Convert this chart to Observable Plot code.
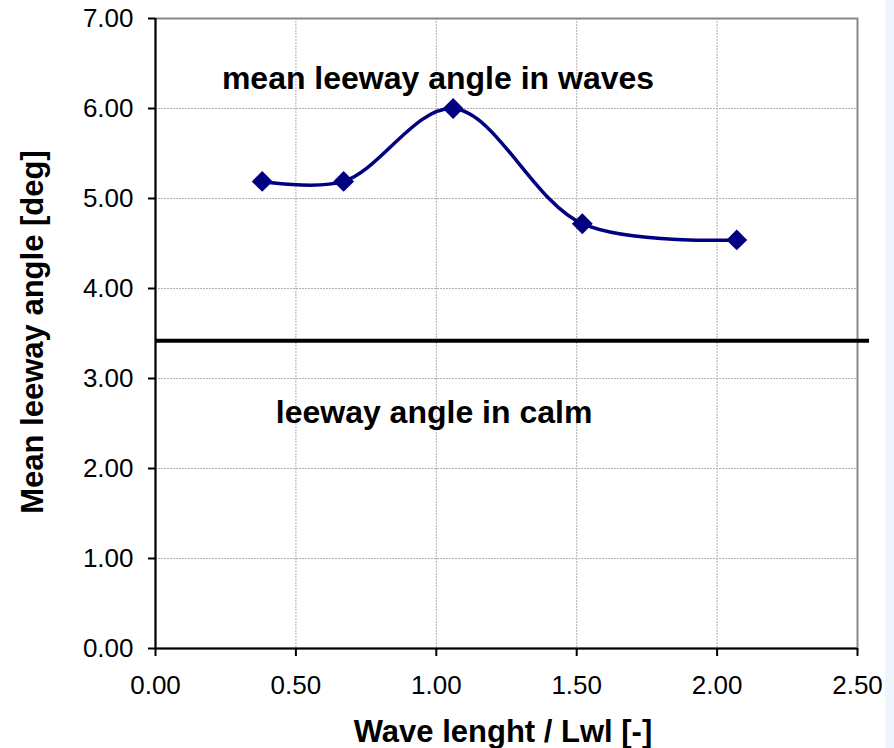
<!DOCTYPE html>
<html>
<head>
<meta charset="utf-8">
<script src="https://cdn.jsdelivr.net/npm/d3@7"></script>
<script src="https://cdn.jsdelivr.net/npm/@observablehq/plot@0.6"></script>
<style>
  html, body { margin: 0; padding: 0; background: #ffffff; }
  #wrap { position: relative; width: 894px; height: 748px; overflow: hidden; }
  #stripe { position: absolute; left: 885px; top: 0; width: 9px; height: 748px; background: #eef5ff; }
  svg { font-family: "Liberation Sans", Arial, sans-serif; }
</style>
</head>
<body>
<div id="wrap"><div id="stripe"></div></div>
<script>
// Data
const waveLength = [0.38, 0.67, 1.06, 1.52, 2.07];
const leewayWaves = [5.19, 5.19, 6.00, 4.72, 4.54];
const leewayCalm = 3.42;
const xTicks = [0, 0.5, 1.0, 1.5, 2.0, 2.5];
const yTicks = [0, 1, 2, 3, 4, 5, 6, 7];
const labelTexts = ["mean leeway angle in waves", "leeway angle in calm"];
const labelX = [1.006, 0.992];
const labelY = [6.33, 2.62];

const points = waveLength.map((x, i) => ({x, y: leewayWaves[i]}));
const labels = labelTexts.map((t, i) => ({t, x: labelX[i], y: labelY[i]}));
const fmt = d3.format(".2f");

const chart = Plot.plot({
  width: 894,
  height: 748,
  marginLeft: 155,
  marginRight: 37,
  marginTop: 18,
  marginBottom: 100,
  style: {fontFamily: "'Liberation Sans', Arial, sans-serif", background: "transparent"},
  x: {domain: [0, 2.5], ticks: xTicks},
  y: {domain: [0, 7], ticks: yTicks},
  marks: [
    Plot.gridX(xTicks, {stroke: "#b0b0b0", strokeOpacity: 1, strokeDasharray: "2,1"}),
    Plot.gridY(yTicks, {stroke: "#b0b0b0", strokeOpacity: 1, strokeDasharray: "2,1"}),
    Plot.frame({stroke: "#888888", strokeWidth: 2}),
    Plot.ruleX([0], {stroke: "#000", strokeWidth: 2}),
    Plot.ruleY([0], {stroke: "#000", strokeWidth: 2}),
    Plot.axisX(xTicks, {tickFormat: fmt, tickSize: 8, tickPadding: 19, fontSize: 26, stroke: "#000", strokeWidth: 2, label: null}),
    Plot.axisY(yTicks, {tickFormat: fmt, tickSize: 7, tickPadding: 15, fontSize: 26, stroke: "#000", strokeWidth: 2, label: null}),
    Plot.ruleY([leewayCalm], {stroke: "#000", strokeWidth: 4, insetRight: -12}),
    Plot.line(points, {x: "x", y: "y", curve: "catmull-rom", stroke: "#000080", strokeWidth: 3.5}),
    Plot.dot(points, {x: "x", y: "y", symbol: "diamond2", r: 9.4, fill: "#000080", stroke: "none"}),
    Plot.text(labels, {x: "x", y: "y", text: "t", fontSize: 32, fontWeight: "bold", fill: "#000"})
  ]
});

// Axis titles
const svg = d3.select(chart);
svg.append("text")
  .attr("x", 503).attr("y", 742)
  .attr("text-anchor", "middle")
  .attr("font-size", 31).attr("font-weight", "bold")
  .attr("font-family", "'Liberation Sans', Arial, sans-serif")
  .text("Wave lenght / Lwl [-]");
svg.append("text")
  .attr("transform", "translate(43,332) rotate(-90)")
  .attr("text-anchor", "middle")
  .attr("font-size", 31).attr("font-weight", "bold")
  .attr("font-family", "'Liberation Sans', Arial, sans-serif")
  .text("Mean leeway angle [deg]");

document.getElementById("wrap").appendChild(chart);
chart.style.position = "absolute";
chart.style.left = "0";
chart.style.top = "0";
</script>
</body>
</html>
